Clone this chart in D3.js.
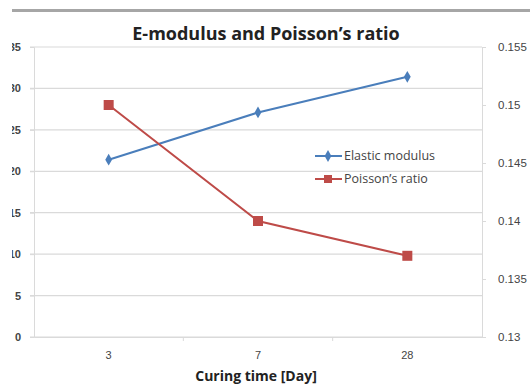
<!DOCTYPE html>
<html>
<head>
<meta charset="utf-8">
<script src="https://cdn.jsdelivr.net/npm/d3@7"></script>
<style>
  body { margin: 0; background: #fff; }
  svg { display: block; font-family: "Open Sans", "DejaVu Sans", sans-serif; }
</style>
</head>
<body>
<div id="chart"></div>
<script>
// data
const days = ["3", "7", "28"];
const elasticModulus = [21.4, 27.1, 31.4];
const poissonRatio = [0.150, 0.140, 0.137];
const leftTicks = [0, 5, 10, 15, 20, 25, 30, 35];
const rightTicks = [0.13, 0.135, 0.14, 0.145, 0.15, 0.155];

const W = 530, H = 387;
const plot = { left: 34, right: 482, top: 47, bottom: 337 };

const svg = d3.select("#chart").append("svg")
    .attr("width", W)
    .attr("height", H);

// the picture is a crop of a bigger sheet: clip the left side
svg.append("clipPath").attr("id", "crop")
    .append("rect").attr("x", 12).attr("y", 0).attr("width", W - 12).attr("height", H);
const root = svg.append("g").attr("clip-path", "url(#crop)");

// top grey rule
root.append("rect")
    .attr("x", 12).attr("y", 9)
    .attr("width", W - 12).attr("height", 3)
    .attr("fill", "#a6a6a6");

const x = d3.scaleBand().domain(days).range([plot.left, plot.right]);
const yL = d3.scaleLinear().domain([0, 35]).range([plot.bottom, plot.top]);
const yR = d3.scaleLinear().domain([0.13, 0.155]).range([plot.bottom, plot.top]);

// gridlines
root.append("g")
    .selectAll("line")
    .data(leftTicks)
    .join("line")
    .attr("x1", plot.left - 4).attr("x2", plot.right)
    .attr("y1", d => yL(d)).attr("y2", d => yL(d))
    .attr("stroke", "#dadada").attr("stroke-width", 1.2);

// left axis
const gL = root.append("g")
    .attr("transform", `translate(${plot.left},0)`)
    .call(d3.axisLeft(yL).tickValues(leftTicks).tickSize(4).tickPadding(9));
gL.select(".domain").attr("stroke", "#dadada");
gL.selectAll(".tick line").attr("stroke", "#dadada");
gL.selectAll("text").attr("fill", "#444").style("font-size", "11px").style("font-weight", "bold");

// right axis
const gR = root.append("g")
    .attr("transform", `translate(${plot.right},0)`)
    .call(d3.axisRight(yR).tickValues(rightTicks).tickSize(4).tickPadding(12).tickFormat(d3.format("")));
gR.select(".domain").attr("stroke", "#dadada");
gR.selectAll(".tick line").attr("stroke", "#dadada");
gR.selectAll("text").attr("fill", "#444").style("font-size", "11.5px");

// bottom axis
const gB = root.append("g")
    .attr("transform", `translate(0,${plot.bottom})`)
    .call(d3.axisBottom(x).tickSize(0).tickPadding(14));
gB.select(".domain").attr("stroke", "#dadada");
gB.selectAll("text").attr("fill", "#444").style("font-size", "11px");
// category separators
gB.selectAll(".sep")
    .data(days.slice(1))
    .join("line")
    .attr("class", "sep")
    .attr("x1", d => x(d)).attr("x2", d => x(d))
    .attr("y1", 0).attr("y2", 4)
    .attr("stroke", "#dadada");

// series
const cx = d => x(d) + x.bandwidth() / 2;
const blue = "#4a7ebb", red = "#be4b48";

const lineL = d3.line().x((d, i) => cx(days[i])).y(d => yL(d));
const lineR = d3.line().x((d, i) => cx(days[i])).y(d => yR(d));

root.append("path").datum(elasticModulus)
    .attr("d", lineL).attr("fill", "none").attr("stroke", blue).attr("stroke-width", 2);
root.append("path").datum(poissonRatio)
    .attr("d", lineR).attr("fill", "none").attr("stroke", red).attr("stroke-width", 2);

const diamond = d3.symbol().type(d3.symbolDiamond).size(40);
root.append("g").selectAll("path")
    .data(elasticModulus)
    .join("path")
    .attr("d", diamond)
    .attr("transform", (d, i) => `translate(${cx(days[i])},${yL(d)})`)
    .attr("fill", blue);

root.append("g").selectAll("rect")
    .data(poissonRatio)
    .join("rect")
    .attr("x", (d, i) => cx(days[i]) - 5)
    .attr("y", d => yR(d) - 5)
    .attr("width", 10).attr("height", 10)
    .attr("fill", red);

// legend
const legend = [
    { name: "Elastic modulus", color: blue, mark: "diamond" },
    { name: "Poisson\u2019s ratio", color: red, mark: "square" }
];
const lg = root.append("g").attr("transform", "translate(315,156)");
legend.forEach((s, i) => {
    const g = lg.append("g").attr("transform", `translate(0,${i * 23})`);
    g.append("line").attr("x1", 0).attr("x2", 27).attr("y1", 0).attr("y2", 0)
        .attr("stroke", s.color).attr("stroke-width", 2);
    if (s.mark === "diamond") {
        g.append("path").attr("d", diamond).attr("transform", "translate(13,0)").attr("fill", s.color);
    } else {
        g.append("rect").attr("x", 9).attr("y", -4).attr("width", 8).attr("height", 8).attr("fill", s.color);
    }
    g.append("text").attr("x", 29).attr("y", 0).attr("dy", "0.35em")
        .attr("fill", "#444").style("font-size", "12.5px").text(s.name);
});

// title
root.append("text")
    .attr("x", 266).attr("y", 40)
    .attr("text-anchor", "middle")
    .attr("fill", "#222")
    .style("font-size", "18px").style("font-weight", "bold")
    .text("E-modulus and Poisson\u2019s ratio");

// x-axis title
root.append("text")
    .attr("x", 256).attr("y", 381)
    .attr("text-anchor", "middle")
    .attr("fill", "#222")
    .style("font-size", "14px").style("font-weight", "bold")
    .text("Curing time [Day]");
</script>
</body>
</html>
